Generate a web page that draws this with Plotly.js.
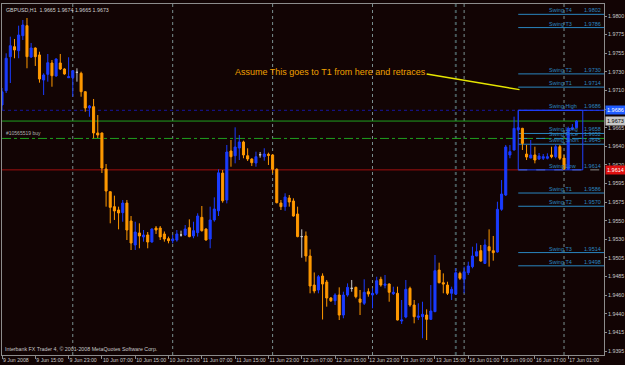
<!DOCTYPE html>
<html><head><meta charset="utf-8">
<script src="https://cdn.plot.ly/plotly-3.0.1.min.js"></script>
<style>html,body{margin:0;padding:0;background:#120404;}#chart{width:625px;height:365px;}</style>
</head><body><div id="chart"></div>
<script>
const openP=[1.96924,1.97097,1.97508,1.97629,1.97581,1.97762,1.97883,1.97504,1.97613,1.97529,1.97226,1.97295,1.97432,1.97275,1.97432,1.97359,1.97254,1.97254,1.97319,1.97307,1.97085,1.96888,1.96904,1.96586,1.96586,1.96150,1.95876,1.95695,1.95655,1.95623,1.95739,1.95522,1.95232,1.95377,1.95329,1.95353,1.95268,1.95437,1.95437,1.95365,1.95308,1.95284,1.95292,1.95353,1.95353,1.95441,1.95341,1.95381,1.95566,1.95425,1.95304,1.95534,1.95645,1.96101,1.95776,1.96368,1.96311,1.96404,1.96477,1.96311,1.96271,1.96223,1.96323,1.96299,1.96328,1.96320,1.96147,1.95739,1.95695,1.95800,1.95764,1.95606,1.95333,1.95341,1.95099,1.94748,1.94688,1.94857,1.94784,1.94591,1.94558,1.94627,1.94385,1.94627,1.94708,1.94720,1.94579,1.94527,1.94667,1.94627,1.94648,1.94817,1.94744,1.94760,1.94643,1.94648,1.94313,1.94361,1.94708,1.94506,1.94357,1.94365,1.94385,1.94333,1.94426,1.94929,1.94776,1.94748,1.94648,1.94639,1.94889,1.94817,1.94897,1.94970,1.95099,1.95163,1.95009,1.95211,1.95163,1.95147,1.95663,1.95836,1.96320,1.96380,1.96625,1.96642,1.96331,1.96283,1.96320,1.96271,1.96280,1.96280,1.96320,1.96299,1.96420,1.96283,1.96150,1.96630,1.96650];
const highP=[1.97130,1.97549,1.97750,1.97722,1.97883,1.97952,1.97976,1.97674,1.97620,1.97568,1.97307,1.97541,1.97468,1.97489,1.97541,1.97368,1.97501,1.97347,1.97368,1.97327,1.97090,1.96924,1.96997,1.96803,1.96590,1.96211,1.95880,1.95828,1.95695,1.95776,1.95776,1.95582,1.95513,1.95494,1.95413,1.95389,1.95433,1.95461,1.95461,1.95395,1.95333,1.95353,1.95413,1.95405,1.95473,1.95542,1.95513,1.95615,1.95703,1.95433,1.95695,1.95808,1.96146,1.96138,1.96441,1.96501,1.96654,1.96561,1.96493,1.96401,1.96280,1.96360,1.96356,1.96401,1.96348,1.96330,1.96159,1.95776,1.95857,1.95836,1.95796,1.95695,1.95421,1.95395,1.95179,1.94900,1.94869,1.94889,1.94809,1.94603,1.94648,1.94720,1.94667,1.94768,1.94809,1.94728,1.94688,1.94817,1.94708,1.94708,1.94848,1.94848,1.94869,1.94768,1.94728,1.94728,1.94567,1.94809,1.94728,1.94567,1.94527,1.94546,1.94454,1.94748,1.95111,1.95018,1.94889,1.94788,1.94728,1.94950,1.94909,1.94970,1.95030,1.95211,1.95252,1.95232,1.95300,1.95421,1.95341,1.95755,1.96017,1.96441,1.96441,1.96783,1.96860,1.96648,1.96441,1.96501,1.96420,1.96344,1.96332,1.96340,1.96420,1.96449,1.96441,1.96320,1.96662,1.96694,1.96740];
const lowP=[1.96864,1.97069,1.97190,1.97489,1.97489,1.97710,1.97368,1.97492,1.97396,1.97194,1.97045,1.97206,1.97145,1.97266,1.97347,1.97290,1.97250,1.97024,1.97206,1.97024,1.96843,1.96782,1.96521,1.96525,1.96102,1.95695,1.95494,1.95534,1.95421,1.95513,1.95292,1.95171,1.95171,1.95192,1.95272,1.95192,1.95260,1.95365,1.95292,1.95272,1.95252,1.95252,1.95272,1.95333,1.95341,1.95325,1.95313,1.95333,1.95393,1.95285,1.95192,1.95513,1.95582,1.95743,1.95735,1.96178,1.96219,1.96259,1.96280,1.96247,1.96187,1.96178,1.96287,1.96251,1.96199,1.96098,1.95735,1.95655,1.95645,1.95695,1.95574,1.95325,1.95078,1.95030,1.94648,1.94648,1.94648,1.94331,1.94486,1.94543,1.94506,1.94325,1.94346,1.94607,1.94667,1.94587,1.94385,1.94506,1.94607,1.94466,1.94627,1.94728,1.94708,1.94546,1.94627,1.94320,1.94277,1.94346,1.94486,1.94285,1.94325,1.94104,1.94083,1.94325,1.94420,1.94768,1.94648,1.94627,1.94567,1.94627,1.94809,1.94648,1.94869,1.94950,1.95095,1.95030,1.95002,1.94970,1.95042,1.95139,1.95645,1.95824,1.96280,1.96375,1.96609,1.96380,1.96259,1.96280,1.96219,1.96259,1.96259,1.96267,1.96280,1.96280,1.96259,1.96140,1.96140,1.96622,1.96650];
const closeP=[1.97084,1.97489,1.97641,1.97589,1.97770,1.97891,1.97508,1.97613,1.97508,1.97238,1.97287,1.97435,1.97278,1.97480,1.97359,1.97299,1.97266,1.97339,1.97319,1.97085,1.96888,1.96912,1.96586,1.96561,1.96162,1.95884,1.95687,1.95643,1.95619,1.95739,1.95413,1.95256,1.95389,1.95341,1.95353,1.95268,1.95425,1.95413,1.95329,1.95304,1.95284,1.95304,1.95365,1.95353,1.95425,1.95333,1.95405,1.95582,1.95405,1.95292,1.95534,1.95667,1.96104,1.95767,1.96356,1.96299,1.96416,1.96477,1.96320,1.96271,1.96227,1.96299,1.96323,1.96332,1.96316,1.96147,1.95743,1.95695,1.95812,1.95751,1.95582,1.95333,1.95333,1.95099,1.94736,1.94676,1.94848,1.94760,1.94591,1.94558,1.94627,1.94385,1.94627,1.94720,1.94708,1.94607,1.94539,1.94660,1.94639,1.94648,1.94800,1.94748,1.94760,1.94660,1.94660,1.94325,1.94325,1.94696,1.94506,1.94365,1.94373,1.94394,1.94333,1.94434,1.94921,1.94776,1.94760,1.94648,1.94696,1.94897,1.94829,1.94909,1.94978,1.95099,1.95151,1.95038,1.95232,1.95163,1.95139,1.95663,1.95848,1.96416,1.96360,1.96642,1.96650,1.96460,1.96295,1.96320,1.96259,1.96307,1.96299,1.96299,1.96299,1.96420,1.96280,1.96150,1.96642,1.96650,1.96730];

const xTickBars=[0,8,16,24,32,40,48,56,64,72,80,88,96,104,112,120,128,136];
const xTickLabels=['9 Jun 2008','9 Jun 15:00','9 Jun 23:00','10 Jun 07:00','10 Jun 15:00','10 Jun 23:00','11 Jun 07:00','11 Jun 15:00','11 Jun 23:00','12 Jun 07:00','12 Jun 15:00','12 Jun 23:00','13 Jun 07:00','13 Jun 15:00','16 Jun 01:00','16 Jun 09:00','16 Jun 17:00','17 Jun 01:00'];
const yTickVals=[1.98,1.97775,1.9755,1.97325,1.971,1.96875,1.9665,1.96425,1.962,1.95975,1.9575,1.95525,1.953,1.95075,1.9485,1.94625,1.944,1.94175,1.9395];
const yTickText=['1.9800','1.9775','1.9755','1.9730','1.9710','1.9685','1.9665','1.9640','1.9620','1.9595','1.9575','1.9550','1.9530','1.9505','1.9485','1.9460','1.9440','1.9415','1.9395'];

const daySeparators=[17,41,65,89,111,135];
const weekendSeparators=[109];

const swingNames=['Swing T4','Swing T3','Swing T2','Swing T1','Swing High','Swing Long','Swing Price','Swing Short','Swing Low','Swing T1','Swing T2','Swing T3','Swing T4'];
const swingValues=[1.9802,1.9786,1.9730,1.9714,1.9686,1.9658,1.9652,1.9645,1.9614,1.9586,1.9570,1.9514,1.9498];
const swingStartBar=124;
const boxBars=[124,139.5];
const boxPrices=[1.9614,1.9686];

const askPrice=1.9673;
const orderPrice=1.9652;
const orderLabel='#10565519 buy';
const lowLinePrice=1.9614;
const highDotPrice=1.9686;

const trendBars=[102,124.3];
const trendPrices=[1.9730,1.9711];
const noteText='Assume This goes to T1 from here and retraces';
const noteBar=55.5, notePrice=1.97325;

const headerText='GBPUSD,H1  1.9665 1.9674 1.9665 1.9673';
const footerText='Interbank FX Trader 4, \u00a9 2001-2008 MetaQuotes Software Corp.';

const priceBoxes=[{t:'1.9686',v:1.9686,bg:'#1e5cff',fc:'#ffffff'},{t:'1.9673',v:1.9673,bg:'#c8c8c8',fc:'#000000'},{t:'1.9614',v:1.9614,bg:'#e01010',fc:'#ffffff'}];

const bars=openP.map((_,i)=>i);
const idxMain=bars.filter(i=>openP[i]!==closeP[i]);
const idxDoji=bars.filter(i=>openP[i]===closeP[i]);
const pick=(a,ix)=>ix.map(i=>a[i]);

const BLUE='#1a3cff', ORANGE='#ff9900', TEAL='#2a86c0', FONT='Liberation Sans, Arial, sans-serif';

const traces=[
 {type:'candlestick',x:pick(bars,idxMain),open:pick(openP,idxMain),high:pick(highP,idxMain),low:pick(lowP,idxMain),close:pick(closeP,idxMain),
  increasing:{line:{color:BLUE,width:1},fillcolor:BLUE},decreasing:{line:{color:ORANGE,width:1},fillcolor:ORANGE},whiskerwidth:0,hoverinfo:'skip',showlegend:false},
 {type:'candlestick',x:pick(bars,idxDoji),open:pick(openP,idxDoji),high:pick(highP,idxDoji),low:pick(lowP,idxDoji),close:pick(closeP,idxDoji),
  increasing:{line:{color:'#c8c8c8',width:1},fillcolor:'#c8c8c8'},decreasing:{line:{color:'#c8c8c8',width:1},fillcolor:'#c8c8c8'},whiskerwidth:0,hoverinfo:'skip',showlegend:false},
 {type:'scatter',mode:'lines',x:trendBars,y:trendPrices,line:{color:'#e6e600',width:1.5},hoverinfo:'skip',showlegend:false}
];

const shapes=[];
daySeparators.forEach(b=>shapes.push({type:'line',xref:'x',yref:'paper',x0:b,x1:b,y0:0,y1:1,layer:'below',line:{color:'#7a9090',width:1,dash:'dot'}}));
weekendSeparators.forEach(b=>shapes.push({type:'line',xref:'x',yref:'paper',x0:b,x1:b,y0:0,y1:1,layer:'below',line:{color:'#46585a',width:2,dash:'dot'}}));
shapes.push({type:'line',xref:'paper',yref:'y',x0:0,x1:1,y0:highDotPrice,y1:highDotPrice,layer:'below',line:{color:'#1616a0',width:1,dash:'dot'}});
shapes.push({type:'line',xref:'paper',yref:'y',x0:0,x1:1,y0:askPrice,y1:askPrice,layer:'below',line:{color:'#1fa01f',width:1}});
shapes.push({type:'line',xref:'paper',yref:'y',x0:0,x1:1,y0:orderPrice,y1:orderPrice,layer:'below',line:{color:'#1fa01f',width:1,dash:'dashdot'}});
shapes.push({type:'line',xref:'x',yref:'y',x0:0,x1:swingStartBar,y0:lowLinePrice,y1:lowLinePrice,layer:'below',line:{color:'#a01010',width:1}});
swingNames.forEach((n,k)=>{
  let col=TEAL,dash='solid';
  if(n==='Swing High') col='#2040ff';
  if(n==='Swing Low'){col='#8a8a8a';dash='dash';}
  if(n==='Swing Price'){dash='dash';}
  shapes.push({type:'line',xref:'x',yref:'y',x0:swingStartBar,x1:144.6,y0:swingValues[k],y1:swingValues[k],layer:'below',line:{color:col,width:1,dash:dash}});
});
shapes.push({type:'rect',xref:'x',yref:'y',x0:boxBars[0],x1:boxBars[1],y0:boxPrices[0],y1:boxPrices[1],layer:'below',line:{color:'#2040ff',width:1},fillcolor:'rgba(0,0,0,0)'});

const ann=[];
swingNames.forEach((n,k)=>{
  ann.push({xref:'x',yref:'y',x:131,y:swingValues[k],text:n,showarrow:false,xanchor:'left',yanchor:'bottom',yshift:-1,font:{family:FONT,size:5.5,color:TEAL}});
  ann.push({xref:'paper',yref:'y',x:1,y:swingValues[k],text:swingValues[k].toFixed(4),showarrow:false,xanchor:'right',xshift:-1,yanchor:'bottom',yshift:-1,font:{family:FONT,size:5.5,color:TEAL}});
});
priceBoxes.forEach(p=>ann.push({xref:'paper',yref:'y',x:1,y:p.v,text:p.t,showarrow:false,xanchor:'left',xshift:1,yanchor:'middle',bgcolor:p.bg,borderpad:1,font:{family:FONT,size:5.5,color:p.fc}}));
ann.push({xref:'x',yref:'y',x:0.5,y:orderPrice,text:orderLabel,showarrow:false,xanchor:'left',yanchor:'bottom',yshift:0,font:{family:FONT,size:5,color:'#b0b0b0'}});
ann.push({xref:'x',yref:'y',x:noteBar,y:notePrice,text:noteText,showarrow:false,xanchor:'left',yanchor:'middle',font:{family:FONT,size:9,color:'#f0a000'}});
ann.push({xref:'paper',yref:'paper',x:0,y:1,text:headerText,showarrow:false,xanchor:'left',yanchor:'top',xshift:2,yshift:-1,font:{family:FONT,size:5.3,color:'#d0d0d0'}});
ann.push({xref:'paper',yref:'paper',x:0,y:0,text:footerText,showarrow:false,xanchor:'left',yanchor:'bottom',xshift:1,yshift:1,font:{family:FONT,size:5.3,color:'#c8c8c8'}});

const layout={
  width:625,height:365,
  margin:{l:2,r:21,t:4,b:10,pad:0},
  paper_bgcolor:'#120404',plot_bgcolor:'#120404',
  showlegend:false,
  xaxis:{type:'linear',range:[0,144.6],rangeslider:{visible:false},showgrid:false,zeroline:false,
    showline:true,mirror:true,linecolor:'#8c8c8c',linewidth:1,
    tickmode:'array',tickvals:xTickBars,ticktext:xTickLabels,ticks:'outside',ticklen:3,tickcolor:'#8c8c8c',
    ticklabelposition:'outside right',tickangle:0,tickfont:{family:FONT,size:5.2,color:'#c8c8c8'}},
  yaxis:{range:[1.93902,1.98145],side:'right',showgrid:false,zeroline:false,
    showline:true,mirror:true,linecolor:'#8c8c8c',linewidth:1,
    tickmode:'array',tickvals:yTickVals,ticktext:yTickText,ticks:'outside',ticklen:2,tickcolor:'#8c8c8c',
    tickfont:{family:FONT,size:5.3,color:'#c8c8c8'}},
  shapes:shapes,annotations:ann
};
Plotly.newPlot('chart',traces,layout,{staticPlot:true,displayModeBar:false});
</script></body></html>
